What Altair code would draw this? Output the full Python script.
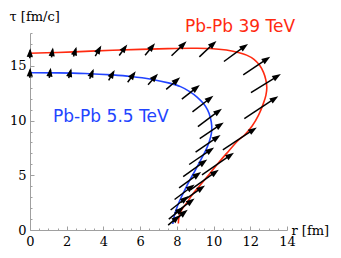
import math
import altair as alt
import pandas as pd

# ---------------- data ----------------
# freeze-out curves (r [fm], tau [fm/c]), ordered along the curve
red_r = [0, 1.5, 3, 4.5, 6, 7.5, 8.8, 9.8, 10.7, 11.4, 11.8, 12.2, 12.5, 12.72, 12.85, 12.9,
         12.85, 12.7, 12.45, 12.1, 11.7, 11.35, 10.71, 10.25, 9.8, 9.3, 8.9, 8.5, 8.26, 8.12, 8.08]
red_tau = [16.15, 16.22, 16.32, 16.42, 16.5, 16.57, 16.6, 16.58, 16.44, 16.2, 15.98, 15.6, 15.07, 14.4, 13.7, 13.0,
           12.3, 11.5, 10.5, 9.5, 8.7, 8.2, 7.0, 6.1, 5.17, 4.15, 3.35, 2.4, 1.83, 1.2, 0.6]

blue_r = [0, 1.5, 3, 4.5, 5.5, 6.6, 7.6, 8.2, 8.7, 9.1, 9.44, 9.68, 9.82, 9.9, 9.88, 9.75,
          9.58, 9.3, 9.0, 8.71, 8.43, 8.17, 7.95, 7.81, 7.78]
blue_tau = [14.37, 14.36, 14.3, 14.17, 14.03, 13.78, 13.42, 13.1, 12.65, 12.15, 11.57, 10.95, 10.3, 9.5, 8.8, 8.0,
            7.3, 6.39, 5.45, 4.57, 3.65, 2.74, 1.8, 0.91, 0.55]

# flow arrows: centre on the curve and vector components (data units)
red_ar_r = [0, 1.21, 2.45, 3.72, 5.08, 6.54, 8.12, 9.69, 11.22, 12.35, 12.85, 12.6, 11.43, 10.24, 9.52, 8.88, 8.42, 8.18]
red_ar_tau = [16.15, 16.22, 16.3, 16.37, 16.45, 16.52, 16.58, 16.55, 16.2, 15.0, 13.4, 11.2, 8.35, 6.05, 4.6, 3.3, 2.2, 1.3]
red_ar_dr = [0.03, 0.08, 0.16, 0.33, 0.44, 0.54, 0.82, 0.93, 1.31, 1.47, 1.63, 1.85, 1.85, 1.74, 1.53, 1.31, 1.09, 0.82]
red_ar_dtau = [0.91, 0.91, 0.91, 0.96, 1.0, 1.1, 1.32, 1.46, 1.61, 1.67, 1.69, 2.06, 2.04, 2.01, 1.83, 1.55, 1.37, 1.1]

blue_ar_r = [0, 1.09, 2.18, 3.36, 4.45, 5.54, 6.7, 7.8, 8.76, 9.42, 9.8, 9.9, 9.7, 9.35, 9.0, 8.72, 8.42, 8.15, 7.97, 7.85]
blue_ar_tau = [14.37, 14.36, 14.33, 14.27, 14.15, 14.0, 13.78, 13.4, 12.6, 11.53, 10.27, 9.09, 7.9, 6.76, 5.66, 4.57, 3.47, 2.47, 1.55, 0.9]
blue_ar_dr = [0.03, 0.08, 0.14, 0.22, 0.33, 0.44, 0.54, 0.76, 0.98, 1.14, 1.31, 1.31, 1.36, 1.36, 1.31, 1.2, 1.09, 0.98, 0.82, 0.65]
blue_ar_dtau = [0.91, 0.91, 0.91, 0.91, 0.96, 1.0, 1.0, 1.1, 1.28, 1.46, 1.64, 1.46, 1.55, 1.55, 1.55, 1.46, 1.37, 1.28, 1.1, 0.91]

label_text = ["Pb-Pb 39 TeV", "Pb-Pb 5.5 TeV"]
label_r = [8.44, 1.25]
label_tau = [18.1, 9.9]
label_color = ["#ff2a10", "#2244ff"]

x_major = [0, 2, 4, 6, 8, 10, 12, 14]
y_major = [0, 5, 10, 15]
x_minor = [v / 2 for v in range(0, 29) if v % 4 != 0]
y_minor = [v for v in range(0, 19) if v % 5 != 0]

# ---------------- layout ----------------
W, H = 257, 197
XMAX, YMAX = 14, 18
SERIF = "DejaVu Serif"
AXC = "#a0a0a0"

xs = alt.Scale(domain=[0, XMAX], nice=False, zero=False)
ys = alt.Scale(domain=[0, YMAX], nice=False, zero=False)

curves = pd.DataFrame({
    "r": red_r + blue_r,
    "tau": red_tau + blue_tau,
    "i": list(range(len(red_r))) + list(range(len(blue_r))),
    "curve": ["red"] * len(red_r) + ["blue"] * len(blue_r),
})

rows = []
for rr, tt, dr, dt in list(zip(red_ar_r, red_ar_tau, red_ar_dr, red_ar_dtau)) + \
        list(zip(blue_ar_r, blue_ar_tau, blue_ar_dr, blue_ar_dtau)):
    ang = math.degrees(math.atan2(dr * W / XMAX, dt * H / YMAX)) % 360
    rows.append({
        "x1": rr - 0.5 * dr, "y1": tt - 0.5 * dt,
        "x2": rr + 0.3 * dr, "y2": tt + 0.3 * dt,
        "xt": rr + 0.5 * dr, "yt": tt + 0.5 * dt,
        "angle": ang,
    })
arrows = pd.DataFrame(rows)

labels = pd.DataFrame({"r": label_r, "tau": label_tau, "text": label_text, "color": label_color})

axis_x_main = alt.Axis(orient="bottom", values=x_major, ticks=False, grid=False, domainColor=AXC,
                       labelFont=SERIF, labelFontSize=13, labelColor="black", labelPadding=5,
                       labelFlush=False, title="r [fm]", titleFont=SERIF, titleFontSize=13,
                       titleFontWeight="normal", titleAngle=0, titleX=261, titleY=4,
                       titleAlign="left", titleBaseline="alphabetic")
axis_y_main = alt.Axis(orient="left", values=y_major, ticks=False, grid=False, domainColor=AXC,
                       labelFont=SERIF, labelFontSize=13, labelColor="black", labelPadding=4,
                       labelFlush=False, title="τ [fm/c]", titleFont=SERIF, titleFontSize=13,
                       titleFontWeight="normal", titleAngle=0, titleX=-21, titleY=-13,
                       titleAlign="left", titleBaseline="alphabetic")
axis_x_maj = alt.Axis(orient="top", offset=-H, values=x_major, labels=False, domain=False, grid=False,
                      tickSize=4, tickColor=AXC, tickWidth=1)
axis_y_maj = alt.Axis(orient="right", offset=-W, values=y_major, labels=False, domain=False, grid=False,
                      tickSize=4, tickColor=AXC, tickWidth=1)
axis_x_min = alt.Axis(orient="top", offset=-H, values=x_minor, labels=False, domain=False, grid=False,
                      tickSize=2, tickColor=AXC, tickWidth=1)
axis_y_min = alt.Axis(orient="right", offset=-W, values=y_minor, labels=False, domain=False, grid=False,
                      tickSize=2, tickColor=AXC, tickWidth=1)

red_line = alt.Chart(curves).transform_filter(alt.datum.curve == "red").mark_line(
    color="#ff2a10", strokeWidth=1.6, interpolate="catmull-rom"
).encode(
    x=alt.X("r:Q", scale=xs, axis=axis_x_main),
    y=alt.Y("tau:Q", scale=ys, axis=axis_y_main),
    order="i:Q",
)

blue_line = alt.Chart(curves).transform_filter(alt.datum.curve == "blue").mark_line(
    color="#2244ff", strokeWidth=1.6, interpolate="catmull-rom"
).encode(
    x=alt.X("r:Q", scale=xs, axis=axis_x_maj, title=""),
    y=alt.Y("tau:Q", scale=ys, axis=axis_y_maj, title=""),
    order="i:Q",
)

shafts = alt.Chart(arrows).mark_rule(color="black", strokeWidth=1.5).encode(
    x=alt.X("x1:Q", scale=xs, axis=axis_x_min, title=""),
    y=alt.Y("y1:Q", scale=ys, axis=axis_y_min, title=""),
    x2="x2:Q",
    y2="y2:Q",
)

heads = alt.Chart(arrows).mark_point(
    shape="M0,0L-0.62,1.75L0.62,1.75Z", filled=True, color="black", opacity=1, size=100, strokeWidth=0
).encode(
    x=alt.X("xt:Q", scale=xs, axis=None),
    y=alt.Y("yt:Q", scale=ys, axis=None),
    angle=alt.Angle("angle:Q", scale=None),
)

texts = alt.Chart(labels).mark_text(
    align="left", baseline="alphabetic", font="DejaVu Sans", fontSize=17
).encode(
    x=alt.X("r:Q", scale=xs, axis=None),
    y=alt.Y("tau:Q", scale=ys, axis=None),
    text="text:N",
    color=alt.Color("color:N", scale=None),
)

chart = alt.layer(red_line, blue_line, shafts, heads, texts).resolve_axis(
    x="independent", y="independent"
).properties(
    width=W, height=H,
    autosize=alt.AutoSizeParams(type="none"),
    padding={"left": 22, "top": 25, "right": 46, "bottom": 20},
).configure_view(strokeWidth=0)

chart.save("out.html", embed_options={"renderer": "svg", "actions": False})
